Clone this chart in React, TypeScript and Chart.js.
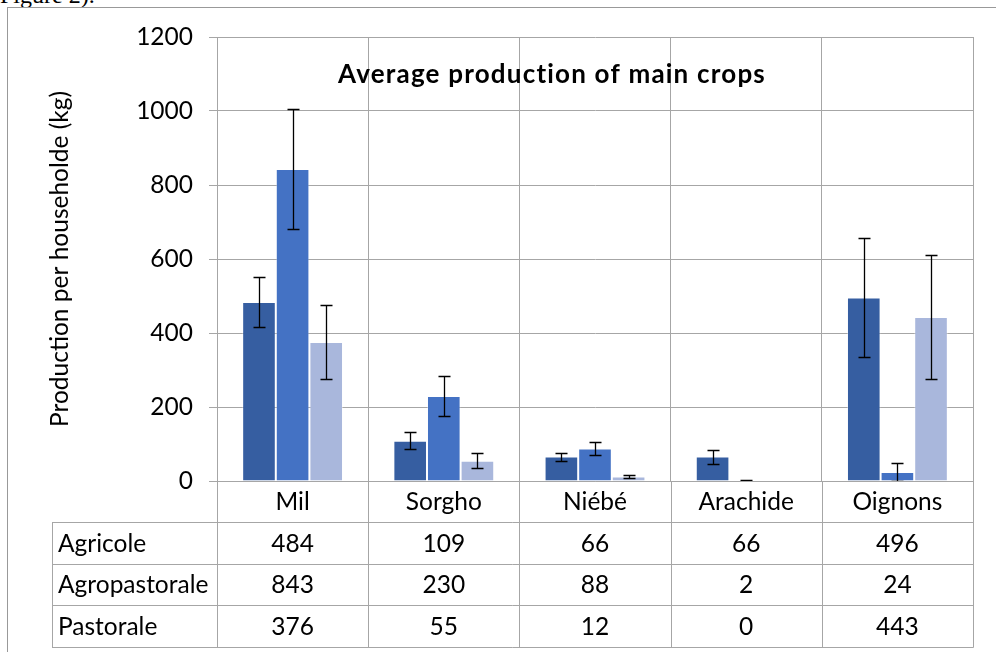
import React, { useEffect, useRef } from "react";
import { Chart, registerables } from "chart.js";

Chart.register(...registerables);

const categories = ["Mil", "Sorgho", "Niébé", "Arachide", "Oignons"];
const seriesNames = ["Agricole", "Agropastorale", "Pastorale"];
const agricole = [484, 109, 66, 66, 496];
const agropastorale = [843, 230, 88, 2, 24];
const pastorale = [376, 55, 12, 0, 443];
const agricoleErr = [67, 23, 11, 19, 162];
const agropastoraleErr = [163, 55, 17, 2, 24];
const pastoraleErr = [100, 20, 5, 0, 167];
const yTicks = [0, 200, 400, 600, 800, 1000, 1200];

const chartTitle = "Average production of main crops";
const yTitle = "Production per householde (kg)";

const FONT = "Lato, 'Open Sans', sans-serif";
const FS = 24.5;
const GRID = "#A6A6A6";
const colors = ["#365EA1", "#4472C4", "#A9B7DC"];

const errorBarsPlugin = {
  id: "errorBars",
  afterDatasetsDraw(chart: any) {
    const ctx = chart.ctx;
    const errs = [agricoleErr, agropastoraleErr, pastoraleErr];
    const y = chart.scales.y;
    const area = chart.chartArea;
    ctx.save();
    ctx.beginPath();
    ctx.rect(area.left, area.top - 2, area.right - area.left, area.bottom - area.top + 2);
    ctx.clip();
    ctx.strokeStyle = "#000";
    ctx.lineWidth = 1.3;
    chart.data.datasets.forEach((ds: any, di: number) => {
      const meta = chart.getDatasetMeta(di);
      meta.data.forEach((bar: any, i: number) => {
        const e = errs[di][i];
        if (!e) return;
        const v = ds.data[i];
        const x = Math.round(bar.x) + 0.5;
        const yTop = Math.round(y.getPixelForValue(v + e)) + 0.5;
        const yBot = Math.round(y.getPixelForValue(v - e)) + 0.5;
        const cap = 6;
        ctx.beginPath();
        ctx.moveTo(x, yTop);
        ctx.lineTo(x, yBot);
        ctx.moveTo(x - cap, yTop);
        ctx.lineTo(x + cap, yTop);
        ctx.moveTo(x - cap, yBot);
        ctx.lineTo(x + cap, yBot);
        ctx.stroke();
      });
    });
    ctx.restore();
  },
};

const tablePlugin = {
  id: "dataTable",
  afterDraw(chart: any) {
    const ctx = chart.ctx;
    const area = chart.chartArea;
    const xs = chart.scales.x;
    const rowH = 41.7;
    const headerH = 41;
    const tableLeft = 52;
    const tableTop = area.bottom + headerH;
    const tableBottom = tableTop + rowH * 3;
    const half = (xs.getPixelForValue(1) - xs.getPixelForValue(0)) / 2;
    const px = (v: number) => Math.round(v) + 0.5;

    ctx.save();
    ctx.strokeStyle = GRID;
    ctx.lineWidth = 1;
    ctx.beginPath();
    for (let r = 0; r <= 3; r++) {
      const yy = px(tableTop + r * rowH);
      ctx.moveTo(tableLeft, yy);
      ctx.lineTo(area.right + 0.5, yy);
    }
    ctx.moveTo(px(tableLeft), px(tableTop));
    ctx.lineTo(px(tableLeft), px(tableBottom));
    const bounds = [xs.getPixelForValue(0) - half];
    categories.forEach((_, i) => bounds.push(xs.getPixelForValue(i) + half));
    bounds.forEach((bx) => {
      ctx.moveTo(px(bx), px(area.bottom));
      ctx.lineTo(px(bx), px(tableBottom));
    });
    ctx.stroke();

    ctx.fillStyle = "#000";
    ctx.font = `${FS}px ${FONT}`;
    ctx.textBaseline = "middle";
    const rows = [agricole, agropastorale, pastorale];
    rows.forEach((vals, r) => {
      const cy = tableTop + r * rowH + rowH / 2 + 1;
      ctx.textAlign = "left";
      ctx.fillText(seriesNames[r], tableLeft + 6, cy);
      ctx.textAlign = "center";
      vals.forEach((v, i) => {
        ctx.fillText(String(v), xs.getPixelForValue(i), cy);
      });
    });

    ctx.font = `bold 26px ${FONT}`;
    try {
      (ctx as any).letterSpacing = "1.2px";
    } catch (e) {}
    ctx.textAlign = "center";
    ctx.textBaseline = "middle";
    ctx.fillText(chartTitle, 552, 75);
    ctx.restore();
  },
};

export default function App() {
  const ref = useRef<HTMLCanvasElement | null>(null);
  useEffect(() => {
    if (!ref.current) return;
    const chart = new Chart(ref.current, {
      type: "bar",
      data: {
        labels: categories,
        datasets: [agricole, agropastorale, pastorale].map((d, i) => ({
          label: seriesNames[i],
          data: d,
          backgroundColor: colors[i],
          borderColor: "rgba(255,255,255,0.35)",
          borderWidth: 1,
          categoryPercentage: 0.667,
          barPercentage: 1,
        })),
      },
      options: {
        responsive: false,
        animation: false,
        layout: { padding: { left: 0, top: 37, right: 23, bottom: 0 } },
        plugins: {
          legend: { display: false },
          title: { display: false },
          tooltip: { enabled: false },
        },
        scales: {
          x: {
            offset: true,
            grid: { offset: true, color: GRID, drawTicks: false, lineWidth: 1 },
            border: { color: GRID },
            ticks: { color: "#000", font: { family: FONT, size: FS }, padding: 6 },
            afterFit: (s: any) => {
              s.height = 171;
            },
          },
          y: {
            min: 0,
            max: 1200,
            afterBuildTicks: (s: any) => {
              s.ticks = yTicks.map((v) => ({ value: v }));
            },
            grid: { color: GRID, tickLength: 8, lineWidth: 1 },
            border: { color: GRID },
            ticks: {
              color: "#000",
              font: { family: FONT, size: FS },
              padding: 16,
              callback: (v: any) => String(v),
            },
            title: {
              display: true,
              text: yTitle,
              color: "#000",
              font: { family: FONT, size: FS },
              padding: { top: 45, bottom: 0 },
            },
            afterFit: (s: any) => {
              s.width = 217;
            },
          },
        },
      },
      plugins: [errorBarsPlugin, tablePlugin],
    } as any);
    return () => chart.destroy();
  }, []);

  return (
    <div style={{ position: "absolute", left: 0, top: 0, width: 996, height: 652, overflow: "hidden", background: "#fff" }}>
      <div
        style={{
          position: "absolute",
          left: 0,
          top: -18,
          fontFamily: "'Liberation Serif', serif",
          fontSize: 24,
          color: "#000",
          whiteSpace: "nowrap",
        }}
      >
        Figure 2).
      </div>
      <div
        style={{
          position: "absolute",
          left: 7,
          top: 7,
          width: 1000,
          height: 700,
          borderLeft: "1px solid #999",
          borderTop: "1px solid #999",
        }}
      />
      <canvas ref={ref} width={996} height={652} style={{ position: "absolute", left: 0, top: 0, display: "block" }} />
    </div>
  );
}
